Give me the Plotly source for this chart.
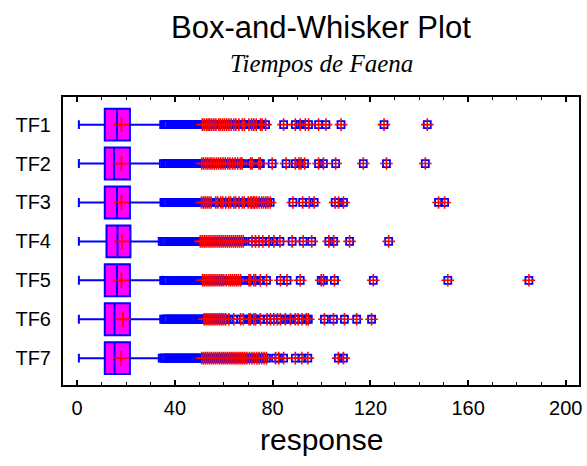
import plotly.graph_objects as go

categories = ["TF1", "TF2", "TF3", "TF4", "TF5", "TF6", "TF7"]
lower_whisker = [0.7, 0.7, 0.7, 0.7, 0.7, 0.7, 0.7]
q1_vals = [11.3, 11.3, 11.3, 12.0, 11.3, 11.3, 11.3]
median_vals = [16.3, 15.1, 16.3, 16.5, 16.3, 15.3, 15.3]
q3_vals = [21.6, 21.6, 21.6, 21.8, 21.6, 21.6, 21.6]
upper_whisker = [35.0, 35.0, 35.0, 34.3, 35.0, 35.0, 34.3]
mean_vals = [18.1, 18.1, 18.1, 18.3, 18.1, 18.7, 18.0]

# outside points (between 1.5 and 3 IQR beyond the box)
near_TF1 = [35.4, 36.0, 36.7, 37.3, 38.0, 38.6, 39.3, 39.9, 40.6, 41.2, 41.9, 42.5, 43.2, 43.8, 44.5, 45.1, 45.8, 46.4, 47.1, 47.7, 48.4, 49.0, 49.7, 50.3]
near_TF2 = [35.3, 36.0, 36.6, 37.3, 37.9, 38.6, 39.2, 39.9, 40.5, 41.2, 41.8, 42.5, 43.1, 43.8, 44.4, 45.1, 45.7, 46.4, 47.0, 47.7, 48.3, 49.0, 49.6, 50.2]
near_TF3 = [35.5, 36.1, 36.8, 37.4, 38.1, 38.7, 39.4, 40.0, 40.7, 41.3, 42.0, 42.6, 43.3, 43.9, 44.6, 45.2, 45.9, 46.5, 47.2, 47.8, 48.5, 49.1, 49.8, 50.4]
near_TF4 = [34.8, 35.4, 36.1, 36.7, 37.4, 38.0, 38.7, 39.3, 40.0, 40.6, 41.3, 41.9, 42.6, 43.2, 43.9, 44.5, 45.2, 45.8, 46.5, 47.1, 47.8, 48.4, 49.1, 49.7]
near_TF5 = [35.4, 36.0, 36.7, 37.3, 38.0, 38.6, 39.3, 39.9, 40.6, 41.2, 41.9, 42.5, 43.2, 43.8, 44.5, 45.1, 45.8, 46.4, 47.1, 47.7, 48.4, 49.0, 49.7, 50.3, 50.9]
near_TF6 = [35.4, 36.0, 36.7, 37.3, 38.0, 38.6, 39.3, 39.9, 40.6, 41.2, 41.9, 42.5, 43.2, 43.8, 44.5, 45.1, 45.8, 46.4, 47.1, 47.7, 48.4, 49.0, 49.7, 50.3, 50.9, 51.5]
near_TF7 = [34.8, 35.4, 36.1, 36.7, 37.4, 38.0, 38.7, 39.3, 40.0, 40.6, 41.3, 41.9, 42.6, 43.2, 43.9, 44.5, 45.2, 45.8, 46.5, 47.1, 47.8, 48.4, 49.1, 49.7, 50.3]

# far outside points (beyond 3 IQR)
far_TF1 = [51.2, 52.0, 52.9, 53.6, 54.3, 55.1, 56.0, 56.8, 57.9, 58.6, 59.5, 60.3, 61.2, 62.1, 63.0, 64.1, 65.0, 66.2, 67.6, 68.5, 70.3, 71.4, 72.3, 73.3, 75.0, 75.7, 77.1, 84.5, 89.3, 91.3, 93.4, 94.7, 98.8, 101.8, 108.0, 125.6, 143.3]
far_TF2 = [51.0, 51.8, 52.7, 53.5, 54.4, 55.2, 56.1, 57.0, 57.9, 58.8, 59.7, 60.6, 61.6, 62.5, 63.6, 64.6, 65.7, 66.8, 67.5, 71.0, 71.6, 74.4, 75.0, 79.8, 85.5, 89.3, 90.8, 91.6, 93.1, 98.8, 100.8, 105.8, 117.1, 126.6, 142.5]
far_TF3 = [50.9, 51.7, 52.4, 53.2, 54.0, 54.8, 56.7, 57.5, 58.8, 59.6, 60.8, 62.0, 62.8, 64.1, 64.9, 66.3, 67.6, 68.4, 70.0, 71.0, 71.5, 72.3, 72.7, 73.5, 74.5, 75.5, 76.3, 77.2, 78.0, 79.0, 88.3, 92.3, 95.0, 97.0, 105.6, 107.0, 109.0, 147.9, 150.4]
far_TF4 = [50.4, 51.2, 52.0, 52.8, 53.6, 54.4, 55.2, 56.0, 56.8, 57.6, 58.4, 59.2, 60.0, 60.8, 61.6, 62.4, 63.2, 64.0, 64.8, 65.6, 66.4, 67.2, 68.0, 71.6, 73.0, 74.4, 76.0, 78.5, 80.5, 83.0, 88.0, 92.5, 96.0, 103.0, 105.0, 111.5, 127.5]
far_TF5 = [51.3, 52.0, 52.8, 53.6, 54.4, 55.2, 56.0, 56.8, 57.6, 58.4, 59.2, 60.0, 61.0, 62.0, 62.8, 63.6, 64.4, 65.2, 66.0, 66.9, 70.3, 71.0, 72.3, 73.0, 75.0, 77.5, 83.2, 85.9, 91.3, 99.9, 100.8, 105.3, 121.2, 151.7, 184.9]
far_TF6 = [52.0, 52.8, 53.6, 54.4, 55.2, 56.0, 56.8, 57.6, 58.4, 59.2, 60.0, 60.8, 62.1, 64.1, 66.9, 68.0, 70.3, 71.0, 72.3, 73.0, 75.0, 77.7, 79.1, 80.5, 82.0, 83.2, 85.2, 87.3, 89.3, 90.5, 92.0, 93.8, 94.6, 101.2, 104.9, 109.4, 114.4, 120.5]
far_TF7 = [51.0, 51.8, 52.6, 53.4, 54.2, 55.0, 55.8, 56.6, 57.4, 58.2, 59.0, 59.8, 60.6, 61.4, 62.2, 63.0, 63.8, 64.6, 65.4, 66.2, 67.0, 67.8, 68.6, 69.5, 70.5, 71.5, 72.5, 73.5, 74.5, 75.5, 76.5, 77.5, 81.2, 82.5, 84.5, 89.3, 92.0, 94.4, 106.9, 109.0]

near_points = [near_TF1, near_TF2, near_TF3, near_TF4, near_TF5, near_TF6, near_TF7]
far_points = [far_TF1, far_TF2, far_TF3, far_TF4, far_TF5, far_TF6, far_TF7]

x_ticks = [0, 40, 80, 120, 160, 200]

BLUE = "#0000FF"
RED = "#FF0000"
MAGENTA = "#FF00FF"

fig = go.Figure()

fig.add_trace(go.Box(
    y=categories, q1=q1_vals, median=median_vals, q3=q3_vals,
    lowerfence=lower_whisker, upperfence=upper_whisker,
    orientation="h", boxpoints=False, width=0.82, whiskerwidth=0.28,
    fillcolor=MAGENTA, line=dict(color=BLUE, width=2), showlegend=False,
    hoverinfo="skip",
))

near_x, near_y, far_x, far_y = [], [], [], []
for cat, pts in zip(categories, near_points):
    near_x += pts
    near_y += [cat] * len(pts)
for cat, pts in zip(categories, far_points):
    far_x += pts
    far_y += [cat] * len(pts)

fig.add_trace(go.Scatter(
    x=near_x, y=near_y, mode="markers", showlegend=False,
    marker=dict(symbol="square-open", size=7, color=BLUE, line=dict(width=1.8, color=BLUE)),
))
fig.add_trace(go.Scatter(
    x=far_x, y=far_y, mode="markers", showlegend=False,
    marker=dict(symbol="square-open", size=7, color=BLUE, line=dict(width=1.8, color=BLUE)),
))
fig.add_trace(go.Scatter(
    x=far_x, y=far_y, mode="markers", showlegend=False,
    marker=dict(symbol="cross-thin-open", size=9, color=RED, line=dict(width=1.6, color=RED)),
))
fig.add_trace(go.Scatter(
    x=mean_vals, y=categories, mode="markers", showlegend=False,
    marker=dict(symbol="cross-thin-open", size=11, color=RED, line=dict(width=1.8, color=RED)),
))

fig.update_layout(
    width=587, height=466,
    margin=dict(l=63, r=5, t=97, b=81),
    paper_bgcolor="white", plot_bgcolor="white",
    font=dict(family="Liberation Sans, Arial, sans-serif", color="black"),
    xaxis=dict(
        range=[-5.8, 205.4], tickvals=x_ticks, ticks="inside", ticklen=5, tickwidth=1.5,
        tickcolor="black", showline=True, linecolor="black", linewidth=2, mirror="allticks",
        showgrid=False, zeroline=False, tickfont=dict(size=20), ticklabelstandoff=4,
        minor=dict(dtick=10, ticks="inside", ticklen=3, tickwidth=1.2, tickcolor="black", showgrid=False),
    ),
    yaxis=dict(
        type="category", categoryarray=categories, range=[6.69, -0.71],
        showline=True, linecolor="black", linewidth=2, mirror=True, ticks="",
        showgrid=False, zeroline=False, tickfont=dict(size=20), ticklabelstandoff=6,
    ),
    annotations=[
        dict(text="Box-and-Whisker Plot", xref="paper", yref="paper", x=0.5, y=1.243,
             xanchor="center", yanchor="middle", showarrow=False,
             font=dict(size=31, family="Liberation Sans, Arial, sans-serif")),
        dict(text="<i>Tiempos de Faena</i>", xref="paper", yref="paper", x=0.5, y=1.116,
             xanchor="center", yanchor="middle", showarrow=False,
             font=dict(size=25, family="Liberation Serif, Times New Roman, serif")),
        dict(text="response", xref="paper", yref="paper", x=0.5, y=-0.19,
             xanchor="center", yanchor="middle", showarrow=False,
             font=dict(size=30, family="Liberation Sans, Arial, sans-serif")),
    ],
)

fig.write_html("out.html")
